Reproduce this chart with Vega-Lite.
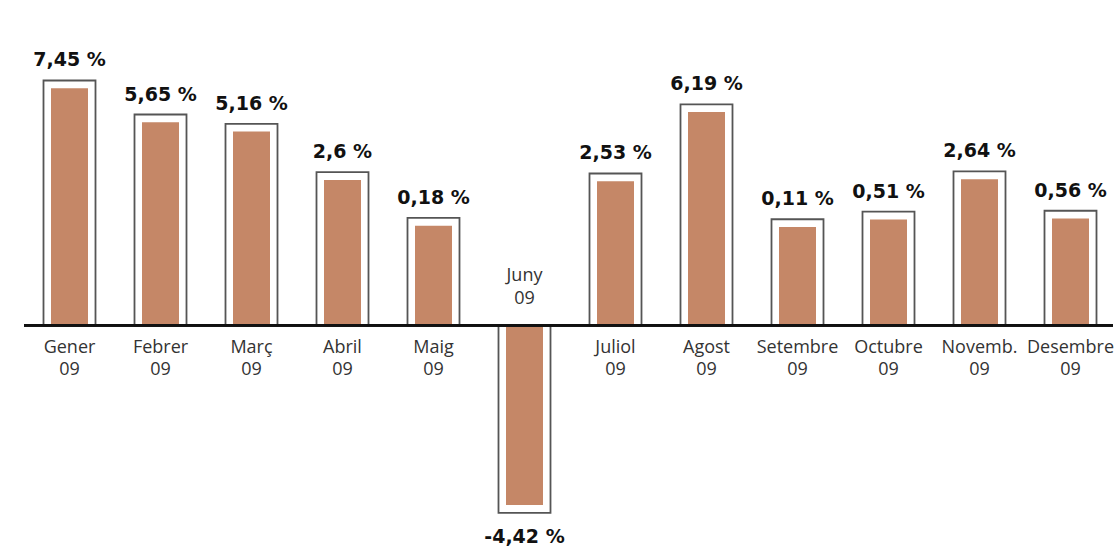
{
  "$schema": "https://vega.github.io/schema/vega-lite/v6.json",
  "width": 1092,
  "height": 555,
  "padding": {"left": 23, "top": 0, "right": 0, "bottom": 0},
  "config": {
    "view": {"stroke": null},
    "locale": {"number": {"decimal": ",", "thousands": ".", "grouping": [3], "currency": ["", " €"], "percent": " %", "minus": "-"}}
  },
  "data": {
    "values": [
      {"mes": "Gener", "any": "09", "v": 0.0745},
      {"mes": "Febrer", "any": "09", "v": 0.0565},
      {"mes": "Març", "any": "09", "v": 0.0516},
      {"mes": "Abril", "any": "09", "v": 0.026},
      {"mes": "Maig", "any": "09", "v": 0.0018},
      {"mes": "Juny", "any": "09", "v": -0.0442},
      {"mes": "Juliol", "any": "09", "v": 0.0253},
      {"mes": "Agost", "any": "09", "v": 0.0619},
      {"mes": "Setembre", "any": "09", "v": 0.0011},
      {"mes": "Octubre", "any": "09", "v": 0.0051},
      {"mes": "Novemb.", "any": "09", "v": 0.0264},
      {"mes": "Desembre", "any": "09", "v": 0.0056}
    ]
  },
  "encoding": {
    "x": {"field": "mes", "type": "nominal", "sort": null, "scale": {"paddingInner": 0, "paddingOuter": 0}, "axis": null}
  },
  "layer": [
    {
      "mark": {"type": "bar", "size": 52, "fill": "white", "stroke": "#555555", "strokeWidth": 1.8},
      "encoding": {
        "y": {"field": "v", "type": "quantitative", "axis": null,
          "scale": {"domain": [-0.1, -0.00001, 0, 0.00001, 0.1], "range": [618.3, 429.3, 325.3, 221.3, 32.3]}}
      }
    },
    {
      "mark": {"type": "bar", "size": 37, "color": "#c58767"},
      "encoding": {
        "y": {"field": "v", "type": "quantitative", "axis": null,
          "scale": {"domain": [-0.1, -0.00001, 0, 0.00001, 0.1], "range": [610.5, 421.5, 325.3, 229.1, 40.1]}}
      }
    },
    {
      "mark": {"type": "rule", "color": "#111111", "strokeWidth": 2},
      "encoding": {
        "y": {"datum": 0, "type": "quantitative", "axis": null,
          "scale": {"domain": [-0.1, -0.00001, 0, 0.00001, 0.1], "range": [618.3, 429.3, 325.3, 221.3, 32.3]}},
        "x": {"value": 0},
        "x2": {"value": 1089}
      }
    },
    {
      "transform": [{"filter": "datum.v > 0"}],
      "mark": {"type": "text", "font": "DejaVu Sans", "fontWeight": "bold", "fontSize": 19, "color": "#111111", "baseline": "alphabetic", "dy": -14},
      "encoding": {
        "y": {"field": "v", "type": "quantitative", "axis": null,
          "scale": {"domain": [-0.1, -0.00001, 0, 0.00001, 0.1], "range": [618.3, 429.3, 325.3, 221.3, 32.3]}},
        "text": {"field": "v", "type": "quantitative", "format": ".2~%"}
      }
    },
    {
      "transform": [{"filter": "datum.v < 0"}],
      "mark": {"type": "text", "font": "DejaVu Sans", "fontWeight": "bold", "fontSize": 19, "color": "#111111", "baseline": "alphabetic", "dy": 30},
      "encoding": {
        "y": {"field": "v", "type": "quantitative", "axis": null,
          "scale": {"domain": [-0.1, -0.00001, 0, 0.00001, 0.1], "range": [618.3, 429.3, 325.3, 221.3, 32.3]}},
        "text": {"field": "v", "type": "quantitative", "format": ".2~%"}
      }
    },
    {
      "transform": [{"filter": "datum.v > 0"}],
      "mark": {"type": "text", "font": "Open Sans", "fontSize": 18, "color": "#333333", "baseline": "alphabetic", "dy": 27.4},
      "encoding": {
        "y": {"datum": 0, "type": "quantitative", "axis": null,
          "scale": {"domain": [-0.1, -0.00001, 0, 0.00001, 0.1], "range": [618.3, 429.3, 325.3, 221.3, 32.3]}},
        "text": {"field": "mes"}
      }
    },
    {
      "transform": [{"filter": "datum.v > 0"}],
      "mark": {"type": "text", "font": "Open Sans", "fontSize": 18, "color": "#333333", "baseline": "alphabetic", "dy": 49.7},
      "encoding": {
        "y": {"datum": 0, "type": "quantitative", "axis": null,
          "scale": {"domain": [-0.1, -0.00001, 0, 0.00001, 0.1], "range": [618.3, 429.3, 325.3, 221.3, 32.3]}},
        "text": {"field": "any"}
      }
    },
    {
      "transform": [{"filter": "datum.v < 0"}],
      "mark": {"type": "text", "font": "Open Sans", "fontSize": 18, "color": "#333333", "baseline": "alphabetic", "dy": -44},
      "encoding": {
        "y": {"datum": 0, "type": "quantitative", "axis": null,
          "scale": {"domain": [-0.1, -0.00001, 0, 0.00001, 0.1], "range": [618.3, 429.3, 325.3, 221.3, 32.3]}},
        "text": {"field": "mes"}
      }
    },
    {
      "transform": [{"filter": "datum.v < 0"}],
      "mark": {"type": "text", "font": "Open Sans", "fontSize": 18, "color": "#333333", "baseline": "alphabetic", "dy": -21},
      "encoding": {
        "y": {"datum": 0, "type": "quantitative", "axis": null,
          "scale": {"domain": [-0.1, -0.00001, 0, 0.00001, 0.1], "range": [618.3, 429.3, 325.3, 221.3, 32.3]}},
        "text": {"field": "any"}
      }
    }
  ],
  "resolve": {"scale": {"y": "independent"}}
}
